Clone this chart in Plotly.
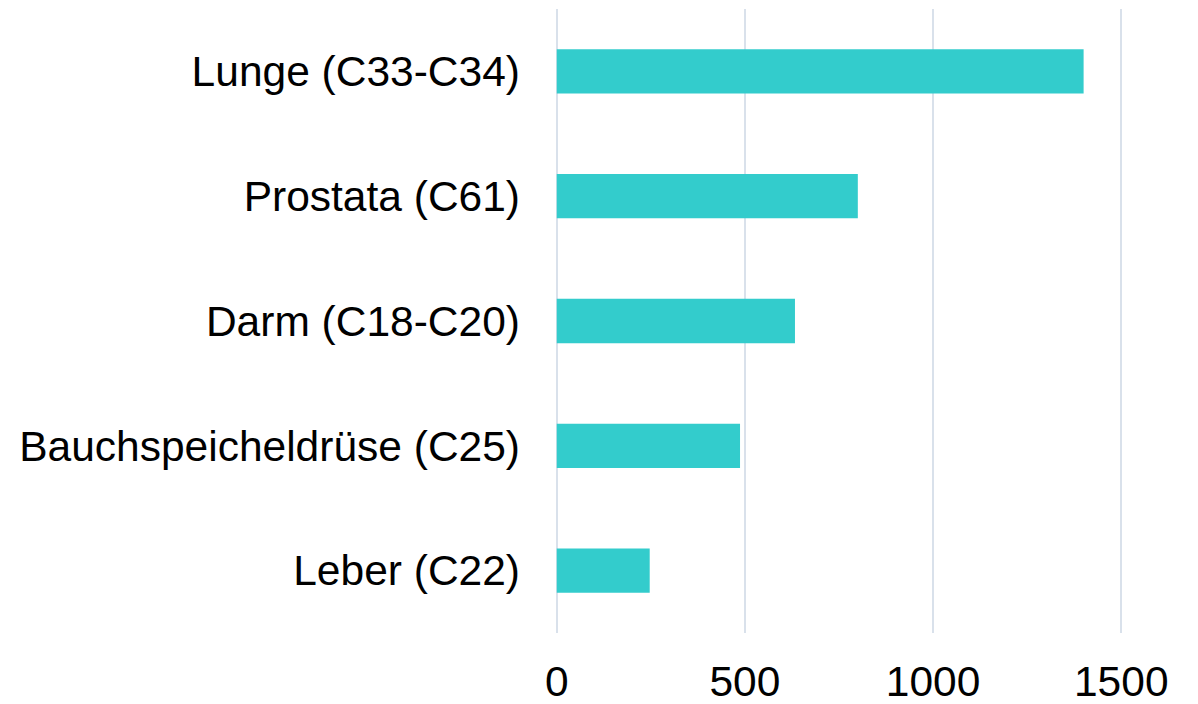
import plotly.graph_objects as go

categories = ["Lunge (C33-C34)", "Prostata (C61)", "Darm (C18-C20)",
              "Bauchspeicheldrüse (C25)", "Leber (C22)"]
values = [1400, 800, 633, 487, 247]
x_ticks = [0, 500, 1000, 1500]

fig = go.Figure(go.Bar(
    x=values, y=categories, orientation="h",
    marker=dict(color="#33CCCC", line=dict(width=0)),
    width=0.355,
))

font = dict(family="Liberation Sans, Arial, sans-serif", size=42.5, color="#000000")

# page body has an 8px margin, so the figure is sized/offset to compensate
fig.update_layout(
    width=1190, height=696,
    margin=dict(l=545, r=73, t=1, b=71, autoexpand=False),
    paper_bgcolor="white", plot_bgcolor="white",
    showlegend=False,
    font=font,
    xaxis=dict(range=[-10, 1510], tickvals=x_ticks, ticktext=[str(v) for v in x_ticks],
               showgrid=True, gridcolor="#D9E1EB", gridwidth=2,
               zeroline=False, showline=False, ticks="", automargin=False,
               ticklabelstandoff=19, tickfont=font),
    yaxis=dict(categoryorder="array", categoryarray=categories,
               autorange="reversed", showgrid=False, zeroline=False,
               showline=False, ticks="", automargin=False,
               ticklabelstandoff=32, tickfont=font),
)

fig.write_html("out.html")
